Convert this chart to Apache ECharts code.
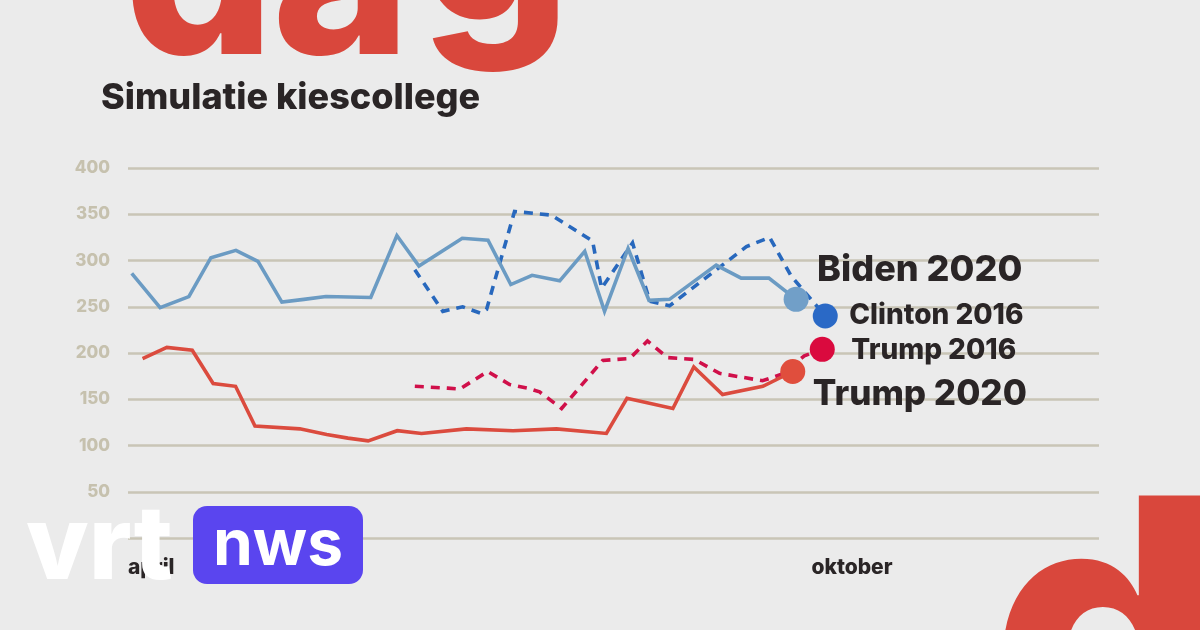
<!DOCTYPE html>
<html>
<head>
<meta charset="utf-8">
<script src="https://cdn.jsdelivr.net/npm/echarts@6/dist/echarts.min.js"></script>
<style>
html,body{margin:0;padding:0;background:#ebebeb;}
#c{width:1200px;height:630px;}
</style>
</head>
<body>
<div id="c"></div>
<script>
// x values: days since 1 April
const xTickLabels = {0: 'april', 183: 'oktober'};
const yTicks = [0, 50, 100, 150, 200, 250, 300, 350, 400];

const biden2020Days = [1.0, 8.6, 16.3, 22.2, 28.9, 34.8, 41.2, 47.1, 53.0, 65.0, 72.0, 77.9, 89.5, 96.4, 102.5, 108.2, 115.6, 122.3, 127.6, 133.9, 139.5, 145.0, 157.5, 164.2, 171.6, 178.9];
const biden2020 = [286, 249, 261, 303, 311, 299, 255, 258, 261, 260, 327, 294, 324, 322, 274, 284, 278, 310, 245, 313, 257, 258, 295, 281, 281, 258];

const trump2020Days = [3.9, 10.4, 17.2, 22.8, 28.8, 34.0, 46.0, 53.2, 58.9, 64.3, 72.1, 78.6, 90.6, 103.1, 114.7, 128.1, 133.6, 145.9, 151.5, 159.2, 170.0, 178.0];
const trump2020 = [194, 206, 203, 167, 164, 121, 118, 112, 108, 105, 116, 113, 118, 116, 118, 113, 151, 140, 185, 155, 164, 180];

const clinton2016Days = [76.8, 84.3, 89.6, 94.4, 96.0, 103.5, 113.4, 124.4, 126.8, 135.1, 139.7, 145.0, 165.6, 171.8, 177.6, 186.7];
const clinton2016 = [290, 245, 250, 243, 247, 353, 349, 321, 270, 319, 256, 251, 315, 325, 283, 240];

const trump2016Days = [76.8, 85.6, 88.8, 96.3, 102.2, 107.0, 110.2, 116.1, 127.1, 134.3, 139.1, 144.5, 151.7, 158.4, 169.9, 175.0, 181.1, 185.9];
const trump2016 = [164, 162, 161, 180, 166, 162, 158, 140, 192, 194, 213, 195, 193, 178, 170, 177, 197, 204];

const seriesNames = ['Biden 2020', 'Trump 2020', 'Clinton 2016', 'Trump 2016'];

function pairs(xs, ys, color) {
  return xs.map((x, i) => {
    const item = {value: [x, ys[i]]};
    if (i === xs.length - 1) {
      item.symbol = 'circle';
      item.symbolSize = 25;
      item.itemStyle = {color: color, borderWidth: 0};
    }
    return item;
  });
}

const FONT = 'Inter, "Noto Sans", sans-serif';
const TXT = '#2a2526';
const RED = '#d9473c';

function lineSeries(name, xs, ys, color, markColor, dashed, fontSize, offset) {
  return {
    type: 'line',
    name: name,
    data: pairs(xs, ys, markColor),
    symbol: 'none',
    showSymbol: true,
    lineStyle: {color: color, width: 3.6, type: dashed ? [9, 7] : 'solid', cap: 'butt', join: 'miter'},
    itemStyle: {color: markColor},
    z: dashed ? 3 : 4,
    endLabel: {
      show: true,
      formatter: name,
      color: TXT,
      fontFamily: FONT,
      fontWeight: 800,
      fontSize: fontSize,
      align: 'left',
      verticalAlign: 'middle',
      distance: 0,
      offset: offset
    },
    emphasis: {disabled: true},
    animation: false
  };
}

const chart = echarts.init(document.getElementById('c'), null, {renderer: 'canvas'});
chart.setOption({
  backgroundColor: '#ebebeb',
  animation: false,
  grid: {left: 128, right: 101, top: 168, bottom: 92},
  xAxis: {
    type: 'value', min: 0, max: 260, interval: 183,
    axisLine: {show: false}, axisTick: {show: false}, splitLine: {show: false},
    axisLabel: {
      showMaxLabel: false,
      formatter: v => xTickLabels[v] || '',
      align: 'left', margin: 19,
      color: TXT, fontFamily: FONT, fontWeight: 800, fontSize: 21
    }
  },
  yAxis: {
    type: 'value', min: yTicks[0], max: yTicks[yTicks.length - 1], interval: 50,
    axisLine: {show: false}, axisTick: {show: false},
    splitLine: {lineStyle: {color: '#c9c5b6', width: 2.5}},
    axisLabel: {margin: 18, color: '#c6c1ae', fontFamily: FONT, fontWeight: 800, fontSize: 17}
  },
  series: [
    lineSeries(seriesNames[2], clinton2016Days, clinton2016, '#2868bd', '#2a69c6', true, 28, [24, 0]),
    lineSeries(seriesNames[3], trump2016Days, trump2016, '#d0104a', '#da0a3e', true, 28, [29, 1]),
    lineSeries(seriesNames[0], biden2020Days, biden2020, '#6b9bc3', '#719fc8', false, 36, [21, -29]),
    lineSeries(seriesNames[1], trump2020Days, trump2020, '#db4b3e', '#e04e3d', false, 35, [20, 23])
  ],
  graphic: [
    {type: 'text', left: 101, top: 80, z: 10, style: {text: 'Simulatie kiescollege', fill: TXT, font: '800 36px ' + FONT}},
    {type: 'text', x: 124, y: -17, z: 1, style: {text: 'd', fill: RED, font: '800 236px ' + FONT, verticalAlign: 'middle', align: 'left'}},
    {type: 'text', x: 272, y: -17, z: 1, style: {text: 'a', fill: RED, font: '800 236px ' + FONT, verticalAlign: 'middle', align: 'left'}},
    {type: 'text', x: 420, y: -50, z: 1, style: {text: 'g', fill: RED, font: '800 236px ' + FONT, verticalAlign: 'middle', align: 'left'}},
    {type: 'text', x: 990, y: 650, z: 1, style: {text: 'd', fill: RED, font: '800 362px ' + FONT, verticalAlign: 'middle', align: 'left'}},
    {type: 'text', x: 26, y: 548, z: 20, style: {text: 'vrt', fill: '#ffffff', font: '800 102px ' + FONT, verticalAlign: 'middle', align: 'left'}},
    {type: 'rect', shape: {x: 193, y: 506, width: 170, height: 78, r: 14}, z: 20, style: {fill: '#5a45ef'}},
    {type: 'text', x: 278, y: 546, z: 21, style: {text: 'nws', fill: '#ffffff', font: '700 64px ' + FONT, verticalAlign: 'middle', align: 'center'}}
  ]
});
</script>
</body>
</html>
